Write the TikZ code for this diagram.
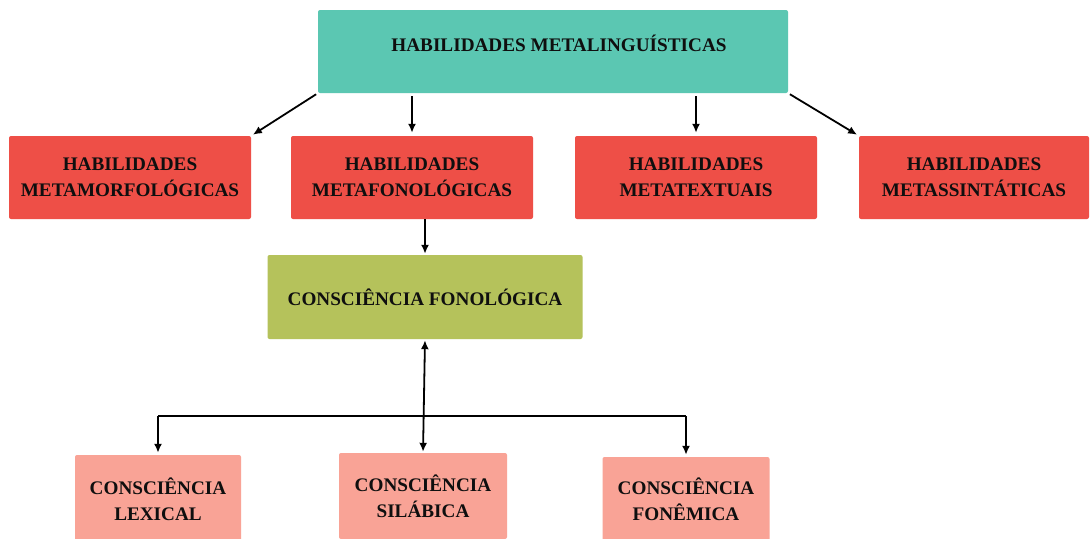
\documentclass[tikz,border=0pt]{standalone}
\usepackage{fontspec}
\setmainfont{Liberation Serif}
\usetikzlibrary{arrows.meta,calc}
\definecolor{cteal}{HTML}{5BC7B2}
\definecolor{cred}{HTML}{EE4F47}
\definecolor{cgreen}{HTML}{B5C25B}
\definecolor{cpink}{HTML}{F9A396}
\definecolor{ctext}{HTML}{0F0F0F}
\begin{document}
\begin{tikzpicture}[x=1pt,y=-1pt,
  box/.style={rectangle, rounded corners=2pt, draw=none, inner sep=0pt,
    align=center, text=ctext, font=\fontsize{19.2}{26}\selectfont\bfseries},
  arr/.style={line width=1.8pt, draw=black, -{Latex[length=9pt,width=8pt]}},
  dbl/.style={line width=1.8pt, draw=black, {Latex[length=9pt,width=8pt]}-{Latex[length=9pt,width=8pt]}},
  bus/.style={line width=1.8pt, draw=black}
]
\useasboundingbox (0,0) rectangle (1092,538);
\clip (0,0) rectangle (1092,538);
\fill[white] (0,0) rectangle (1092,538);

\node[box, fill=cteal, minimum width=470pt, minimum height=83pt,
  label={[box, xshift=6pt, yshift=8pt]center:HABILIDADES METALINGUÍSTICAS}] (top) at (553,51.5) {};

\node[box, fill=cred, minimum width=242pt, minimum height=83pt] (r1) at (130,177.5) {HABILIDADES\\METAMORFOLÓGICAS};
\node[box, fill=cred, minimum width=242pt, minimum height=83pt] (r2) at (412,177.5) {HABILIDADES\\METAFONOLÓGICAS};
\node[box, fill=cred, minimum width=242pt, minimum height=83pt] (r3) at (696,177.5) {HABILIDADES\\METATEXTUAIS};
\node[box, fill=cred, minimum width=230pt, minimum height=83pt] (r4) at (974,177.5) {HABILIDADES\\METASSINTÁTICAS};

\node[box, fill=cgreen, minimum width=315pt, minimum height=84pt] (green) at (425,297) {CONSCIÊNCIA FONOLÓGICA};

\node[box, fill=cpink, minimum width=166pt, minimum height=88pt] (p1) at (158,499) {CONSCIÊNCIA\\LEXICAL};
\node[box, fill=cpink, minimum width=168pt, minimum height=86pt] (p2) at (423,496) {CONSCIÊNCIA\\SILÁBICA};
\node[box, fill=cpink, minimum width=167pt, minimum height=84pt] (p3) at (686,499) {CONSCIÊNCIA\\FONÊMICA};

\coordinate (bus) at (424,416);

\draw[arr, shorten <=2pt, shorten >=2pt] (top.south west) -- (r1.north east);
\draw[arr, shorten <=3pt, shorten >=3pt] (top.south -| r2.north) -- (r2.north);
\draw[arr, shorten <=3pt, shorten >=3pt] (top.south -| r3.north) -- (r3.north);
\draw[arr, shorten <=2pt, shorten >=2pt] (top.south east) -- (r4.north west);
\draw[arr, shorten >=1pt] (r2.south -| green.north) -- (green.north);

\draw[dbl, shorten <=1pt, shorten >=1pt] (green.south) -- (p2.north);
\draw[bus] (bus -| p1.north) -- (bus -| p3.north);
\draw[arr, shorten >=2pt] (bus -| p1.north) -- (p1.north);
\draw[arr, shorten >=2pt] (bus -| p3.north) -- (p3.north);
\end{tikzpicture}
\end{document}
